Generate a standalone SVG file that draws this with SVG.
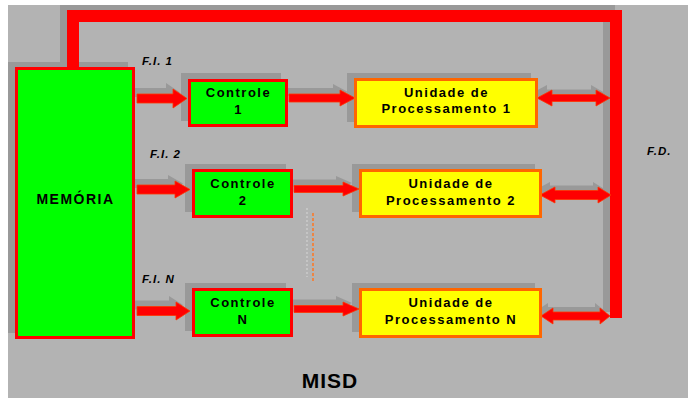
<svg xmlns="http://www.w3.org/2000/svg" width="688" height="398" viewBox="0 0 688 398">
<style>
.bg{fill:#b3b3b3}
.sh{fill:#999999}
.shl{fill:none;stroke:#999999;stroke-width:12;stroke-linejoin:miter}
.bus{fill:none;stroke:#ff0000;stroke-width:12;stroke-linejoin:miter}
.arr{fill:#ff0000;stroke:#ff3300;stroke-width:0.8}
.g{fill:#00ff00;stroke:#ff0000;stroke-width:3}
.y{fill:#ffff00;stroke:#ff6600;stroke-width:3}
.t{font-family:"Liberation Sans",Arial,sans-serif;font-weight:bold;font-size:13px;fill:#000;text-anchor:middle;letter-spacing:1.5px}
.lbl{font-family:"Liberation Sans",Arial,sans-serif;font-weight:bold;font-style:italic;font-size:11.5px;fill:#000;letter-spacing:1px}
</style>
<rect x="8" y="5" width="680" height="393" class="bg"/>
<g id="shadows">
<path class="shl" d="M66,62 V11 H609 V312"/>
<rect x="8" y="62" width="120" height="271" class="sh"/>
<rect x="181" y="73" width="100" height="48" class="sh"/>
<rect x="185" y="164" width="101" height="48" class="sh"/>
<rect x="185" y="283" width="101" height="48" class="sh"/>
<rect x="347" y="73" width="184" height="49" class="sh"/>
<rect x="352" y="164" width="183" height="48" class="sh"/>
<rect x="352" y="283" width="183" height="49" class="sh"/>
<g transform="translate(-7,-6)">
<polygon class="sh" points="137,94 173,94 173,89 187,98.5 173,108 173,103 137,103"/>
<polygon class="sh" points="137,185 175,185 175,181 190,189.5 175,198 175,194 137,194"/>
<polygon class="sh" points="137,306.5 176,306.5 176,302 190,311 176,320 176,315.5 137,315.5"/>
<polygon class="sh" points="289,94 340,94 340,90 355,98 340,106 340,102 289,102"/>
<polygon class="sh" points="294,185.5 343,185.5 343,182 359,189 343,196 343,192.5 294,192.5"/>
<polygon class="sh" points="294,305.5 343,305.5 343,302 359,309 343,316 343,312.5 294,312.5"/>
</g>
<g transform="translate(-5,-5)">
<polygon class="sh" points="537,98 552,90 552,94.5 596,94.5 596,90 610,98 596,106 596,101.5 552,101.5 552,106"/>
<polygon class="sh" points="540,195 555,187 555,190.5 598,190.5 598,187 611,195 598,203 598,199.5 555,199.5 555,203"/>
<polygon class="sh" points="541,316 553,308 553,312 600,312 600,308 610,316 600,324 600,320 553,320 553,324"/>
</g>
<line x1="307" y1="208" x2="307" y2="277" stroke="#cccccc" stroke-width="1.5" stroke-dasharray="2,2"/>
</g>
<g id="connectors">
<path class="bus" d="M73,69 V16 H616 V318"/>
<polygon class="arr" points="137,94 173,94 173,89 187,98.5 173,108 173,103 137,103"/>
<polygon class="arr" points="137,185 175,185 175,181 190,189.5 175,198 175,194 137,194"/>
<polygon class="arr" points="137,306.5 176,306.5 176,302 190,311 176,320 176,315.5 137,315.5"/>
<polygon class="arr" points="289,94 340,94 340,90 355,98 340,106 340,102 289,102"/>
<polygon class="arr" points="294,185.5 343,185.5 343,182 359,189 343,196 343,192.5 294,192.5"/>
<polygon class="arr" points="294,305.5 343,305.5 343,302 359,309 343,316 343,312.5 294,312.5"/>
<polygon class="arr" points="537,98 552,90 552,94.5 596,94.5 596,90 610,98 596,106 596,101.5 552,101.5 552,106"/>
<polygon class="arr" points="540,195 555,187 555,190.5 598,190.5 598,187 611,195 598,203 598,199.5 555,199.5 555,203"/>
<polygon class="arr" points="541,316 553,308 553,312 600,312 600,308 610,316 600,324 600,320 553,320 553,324"/>
<line x1="313" y1="213" x2="313" y2="283" stroke="#ff7722" stroke-width="1.5" stroke-dasharray="3,2"/>
</g>
<g id="memoria">
<rect x="16.5" y="68.5" width="117" height="269" class="g"/>
<text x="75.5" y="204" class="t" style="font-size:14px">MEMÓRIA</text>
</g>
<g id="controle1">
<rect x="189.5" y="80.5" width="97" height="45" class="g"/>
<text x="238.5" y="97" class="t">Controle</text>
<text x="238.5" y="114" class="t">1</text>
</g>
<g id="controle2">
<rect x="193.5" y="170.5" width="98" height="46" class="g"/>
<text x="243" y="188" class="t">Controle</text>
<text x="243" y="205" class="t">2</text>
</g>
<g id="controleN">
<rect x="193.5" y="289.5" width="98" height="46" class="g"/>
<text x="243" y="307" class="t">Controle</text>
<text x="243" y="324" class="t">N</text>
</g>
<g id="up1">
<rect x="355.5" y="79.5" width="181" height="47" class="y"/>
<text x="446.5" y="97" class="t">Unidade de</text>
<text x="446.5" y="113" class="t">Processamento 1</text>
</g>
<g id="up2">
<rect x="360.5" y="170.5" width="180" height="46" class="y"/>
<text x="451" y="188" class="t">Unidade de</text>
<text x="451" y="205" class="t">Processamento 2</text>
</g>
<g id="upN">
<rect x="360.5" y="289.5" width="180" height="47" class="y"/>
<text x="451" y="307" class="t">Unidade de</text>
<text x="451" y="324" class="t">Processamento N</text>
</g>
<g id="labels">
<text x="142" y="65" class="lbl">F.I. 1</text>
<text x="150" y="158" class="lbl">F.I. 2</text>
<text x="142" y="283" class="lbl">F.I. N</text>
<text x="647" y="155" class="lbl">F.D.</text>
<text x="330" y="388" class="t" style="font-size:21px;letter-spacing:1px">MISD</text>
</g>
</svg>
